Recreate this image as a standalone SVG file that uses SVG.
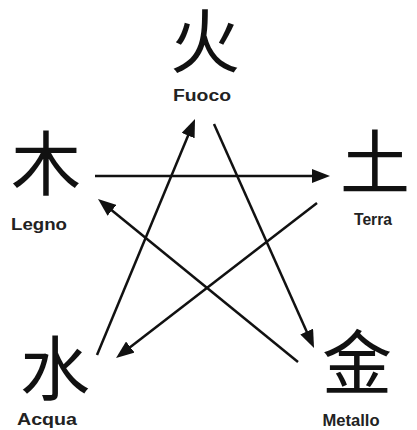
<svg xmlns="http://www.w3.org/2000/svg" width="417" height="430" viewBox="0 0 417 430">
<style>
.han{font-family:"Noto Sans CJK SC","Noto Sans CJK JP",sans-serif;font-size:70px;fill:#111;text-anchor:middle}
.lbl{font-family:"Liberation Sans",Arial,sans-serif;font-weight:bold;font-size:16px;fill:#222;text-anchor:middle}
.con{stroke:#111;stroke-width:2.5;fill:none;marker-end:url(#ah)}
</style>
<defs>
<marker id="ah" markerUnits="userSpaceOnUse" viewBox="0 0 18 14" markerWidth="18" markerHeight="14" refX="13" refY="7" orient="auto">
<path d="M0,0 L18,7 L0,14 Z" fill="#111"/>
</marker>
</defs>
<rect width="417" height="430" fill="#fff"/>
<g id="connectors">
<line class="con" x1="95" y1="176" x2="325" y2="176"/>
<line class="con" x1="317" y1="203" x2="120" y2="355"/>
<line class="con" x1="97" y1="355" x2="193.1" y2="123.6"/>
<line class="con" x1="214" y1="124" x2="312" y2="343.4"/>
<line class="con" x1="298" y1="362" x2="101.9" y2="202.2"/>
</g>
<g id="fuoco">
<text class="han" x="205" y="68">火</text>
<text class="lbl" x="202" y="101" textLength="58" lengthAdjust="spacingAndGlyphs">Fuoco</text>
</g>
<g id="legno">
<text class="han" x="46" y="190">木</text>
<text class="lbl" x="39" y="230" textLength="56" lengthAdjust="spacingAndGlyphs">Legno</text>
</g>
<g id="terra">
<text class="han" x="375" y="189">土</text>
<text class="lbl" x="373" y="225" textLength="38" lengthAdjust="spacingAndGlyphs">Terra</text>
</g>
<g id="acqua">
<text class="han" x="55" y="395">水</text>
<text class="lbl" x="47" y="425" textLength="60" lengthAdjust="spacingAndGlyphs">Acqua</text>
</g>
<g id="metallo">
<text class="han" x="357" y="389">金</text>
<text class="lbl" x="351" y="426" textLength="57" lengthAdjust="spacingAndGlyphs">Metallo</text>
</g>
</svg>
